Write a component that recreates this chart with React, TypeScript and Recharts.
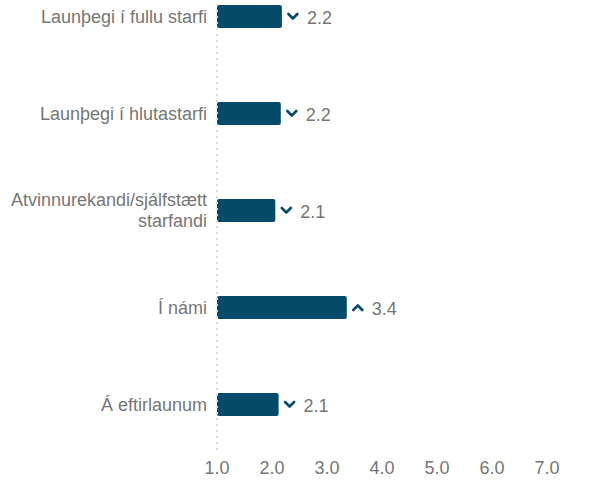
import { BarChart, Bar, XAxis, YAxis, LabelList } from "recharts";

const categories = [
  "Launþegi í fullu starfi",
  "Launþegi í hlutastarfi",
  "Atvinnurekandi/sjálfstætt starfandi",
  "Í námi",
  "Á eftirlaunum",
];
const scores = [2.18, 2.16, 2.06, 3.36, 2.12];
const trends = ["down", "down", "down", "up", "down"];
const xTicks = [1, 2, 3, 4, 5, 6, 7];

const data = categories.map((name, i) => ({ name, score: scores[i], trend: trends[i] }));

const BAR_COLOR = "#044b6a";
const TEXT_COLOR = "#767676";
const FONT = "Liberation Sans, Arial, sans-serif";

// wrap long labels at the last space, like the original
function splitLabel(s: string): string[] {
  if (s.length <= 26) return [s];
  const i = s.lastIndexOf(" ");
  return [s.slice(0, i), s.slice(i + 1)];
}

function CategoryTick({ x, y, payload }: any) {
  const lines = splitLabel(String(payload.value));
  const startDy = -((lines.length - 1) * 21) / 2;
  return (
    <text
      x={Number(x) - 2}
      y={y}
      textAnchor="end"
      fill={TEXT_COLOR}
      style={{ fontSize: 18, fontFamily: FONT }}
    >
      {lines.map((l, i) => (
        <tspan key={i} x={Number(x) - 2} dy={i === 0 ? startDy + 6 : 21}>
          {l}
        </tspan>
      ))}
    </text>
  );
}

function ValueLabel({ x, y, width, height, value, index }: any) {
  const end = Number(x) + Number(width);
  const cy = Number(y) + Number(height) / 2;
  const up = trends[index] === "up";
  const cx = end + 11;
  const path = up
    ? `M${cx - 4.5},${cy + 2.5} L${cx},${cy - 2} L${cx + 4.5},${cy + 2.5}`
    : `M${cx - 4.5},${cy - 2.5} L${cx},${cy + 2} L${cx + 4.5},${cy - 2.5}`;
  return (
    <g>
      <path d={path} fill="none" stroke={BAR_COLOR} strokeWidth={2.6} strokeLinecap="round" strokeLinejoin="round" />
      <text x={end + 25} y={cy + 7} fill={TEXT_COLOR} style={{ fontSize: 18, fontFamily: FONT }}>
        {Number(value).toFixed(1)}
      </text>
    </g>
  );
}

export default function App() {
  return (
    <div style={{ position: "absolute", left: 0, top: 0, width: 591, height: 480, overflow: "hidden", background: "#fff" }}>
      <div style={{ marginTop: -32 }}>
        <BarChart
          width={591}
          height={520}
          data={data}
          layout="vertical"
          margin={{ top: 0, right: 44, left: 0, bottom: 5 }}
        >
          <XAxis
            type="number"
            domain={[1, 7]}
            ticks={xTicks}
            tickFormatter={(v: number) => v.toFixed(1)}
            axisLine={false}
            tickLine={false}
            height={30}
            tick={{ fontSize: 18, fill: TEXT_COLOR, fontFamily: FONT }}
          />
          <YAxis
            type="category"
            dataKey="name"
            width={217}
            tickLine={false}
            axisLine={{ stroke: "#dcdcdc", strokeWidth: 2, strokeDasharray: "2 4" }}
            tick={<CategoryTick />}
          />
          <Bar dataKey="score" fill={BAR_COLOR} barSize={23} radius={2} isAnimationActive={false}>
            <LabelList dataKey="score" content={<ValueLabel />} />
          </Bar>
        </BarChart>
      </div>
    </div>
  );
}
